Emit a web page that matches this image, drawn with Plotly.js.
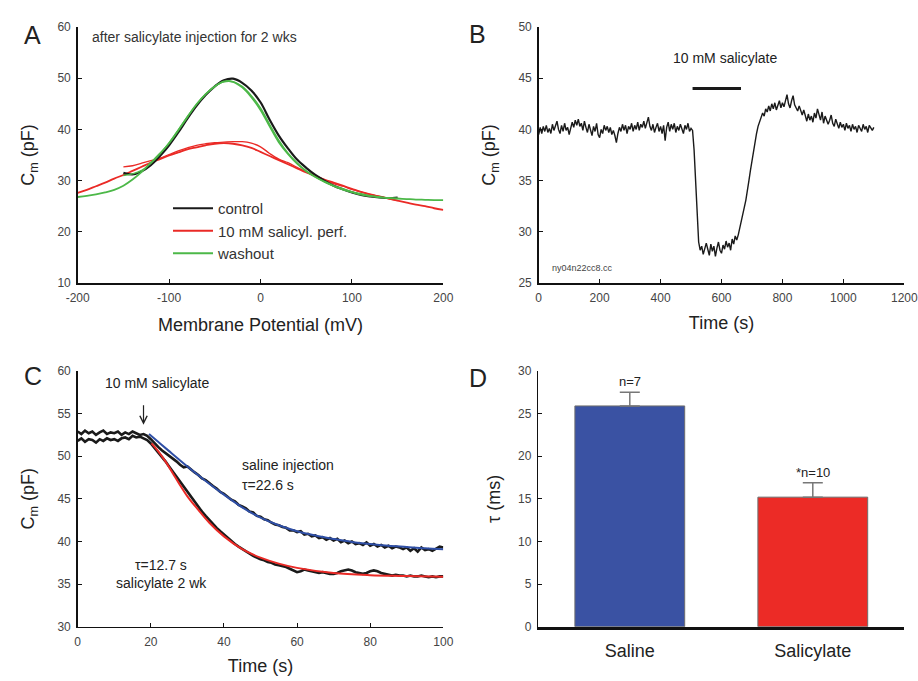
<!DOCTYPE html>
<html>
<head>
<meta charset="utf-8">
<script src="https://cdn.plot.ly/plotly-3.0.1.min.js"></script>
<style>html,body{margin:0;padding:0;background:#fff;}#chart{width:918px;height:681px;}</style>
</head>
<body>
<div id="chart"></div>
<script>
// ---------- Panel A: capacitance vs membrane potential ----------
const aFitX = [-200,-190,-180,-170,-160,-150,-140,-130,-120,-110,-100,-90,-80,-70,-60,-50,-40,-30,-20,-10,0,10,20,30,40,50,60,70,80,90,100,110,120,130,140,150,160,170,180,190,200];
const aWashFit = [26.8,27.0,27.3,27.7,28.2,29.0,30.2,31.7,33.5,35.3,37.3,39.8,42.4,44.9,46.9,48.4,49.4,49.3,48.2,46.3,43.8,40.6,37.5,35.2,33.3,31.8,30.7,29.8,29.0,28.4,27.8,27.4,27.0,26.8,26.6,26.5,26.4,26.3,26.25,26.2,26.2];
const aSalFit = [27.6,28.2,28.9,29.6,30.4,31.1,31.9,32.7,33.5,34.2,34.9,35.5,36.1,36.5,36.9,37.2,37.3,37.2,36.9,36.4,35.6,34.8,34.0,33.2,32.4,31.6,30.9,30.2,29.6,29.0,28.4,27.8,27.3,26.9,26.5,26.1,25.7,25.3,25.0,24.6,24.3];
const aDataX = [-150,-140,-130,-120,-110,-100,-90,-80,-70,-60,-50,-40,-30,-20,-10,0,10,20,30,40,50,60,70,80,90,100,110,120,130,140,150];
const aControl = [31.5,31.2,31.8,33.0,34.8,36.9,39.4,42.1,44.6,46.7,48.4,49.6,49.9,49.1,47.6,45.3,41.9,38.8,36.3,34.1,32.5,31.1,30.0,29.0,28.3,27.7,27.2,26.9,26.7,26.6,26.7];
const aSalData = [32.7,32.9,33.4,33.9,34.4,35.1,35.8,36.4,36.9,37.2,37.4,37.5,37.6,37.6,37.3,36.6,35.3,34.2,33.5,32.6,31.7,30.9,30.1,29.4,28.9,28.3,27.8,27.3,26.9,26.5,26.1];
const aWashData = [31.0,31.3,32.0,33.4,35.2,37.4,39.9,42.5,44.9,46.9,48.4,49.3,49.3,48.4,46.6,44.2,41.0,37.9,35.4,33.5,31.9,30.7,29.7,28.9,28.2,27.7,27.2,26.9,26.7,26.6,26.5];
const aLegendNames = ["control","10 mM salicyl. perf.","washout"];
const aTickVals = [-200,-100,0,100,200];
const aTickText = ["-200","-100","0","100","200"];

// ---------- Panel B: capacitance time course (sampled every 5 s from 0 s) ----------
const bStart = 0, bStep = 5;
const bCm = [
39.5,40.2,39.6,40.3,39.8,40.4,39.7,40.1,39.6,40.5,39.9,
40.3,40.8,40.0,39.6,40.4,39.8,40.6,39.9,40.2,39.5,
40.1,40.7,40.2,40.9,40.4,41.0,40.3,40.6,39.9,40.8,
40.2,39.7,40.5,40.0,39.4,40.3,39.8,40.6,39.5,39.2,
40.0,39.6,40.4,39.9,40.3,39.7,40.2,39.5,39.9,39.4,
38.7,39.6,40.2,39.8,40.5,39.9,40.4,39.6,40.3,40.0,
40.6,39.8,40.4,40.0,40.7,39.9,40.5,40.2,40.8,40.1,
40.6,41.2,40.3,39.9,40.5,39.7,40.2,40.6,39.8,40.3,
39.6,40.4,38.9,40.2,40.7,39.8,40.5,40.0,40.6,39.7,
40.3,39.9,40.5,40.1,39.6,40.4,40.0,40.6,39.8,40.1,
39.9,38.0,34.5,31.0,29.0,28.2,28.6,27.8,28.4,28.9,
28.3,27.7,28.8,28.1,28.6,27.6,28.4,29.0,28.2,27.9,
28.7,28.3,29.1,28.5,28.9,28.2,29.3,28.8,29.6,29.2,
29.7,30.3,30.9,31.6,32.4,33.1,33.9,35.0,36.0,37.0,
37.9,38.8,39.6,40.3,40.8,41.2,41.6,41.3,42.0,41.7,
42.3,41.8,42.5,42.0,42.6,41.9,42.4,42.8,42.1,42.6,
42.2,42.9,43.4,42.5,42.1,42.8,43.3,42.4,42.0,41.8,
42.3,41.7,41.4,41.9,41.2,40.8,41.5,40.9,41.3,40.7,
41.6,41.1,42.0,41.4,40.9,41.7,40.6,41.3,40.8,40.5,
40.9,41.4,40.6,40.3,41.0,40.4,40.1,40.7,40.2,40.5,
39.9,40.6,40.1,40.4,39.8,40.5,40.0,40.3,39.7,40.4,
40.1,39.8,40.5,40.0,40.3,39.7,40.4,40.1,39.9,40.2];
const bBarX = [505, 664];
const bBarY = [44, 44];

// ---------- Panel C: decay after 10 mM salicylate (sampled every 1 s from 0 s) ----------
const cStart = 0, cStep = 1;
const cSaline = [
52.9,52.6,53.0,52.7,52.9,52.5,52.8,53.0,52.6,52.8,
52.7,52.9,52.5,52.8,52.6,52.9,52.7,52.5,52.6,52.4,
52.0,51.5,51.1,50.7,50.4,50.0,49.7,49.4,49.0,48.7,
48.8,48.4,48.1,47.8,47.4,47.2,46.8,46.5,46.2,45.8,
45.6,45.2,44.9,44.7,44.3,44.1,43.9,43.5,43.4,43.0,
42.9,42.6,42.5,42.2,42.0,41.9,41.7,41.6,41.3,41.3,
41.1,41.2,40.8,40.9,40.6,40.7,40.4,40.5,40.2,40.4,
40.1,40.3,39.9,40.1,39.8,40.0,39.7,39.8,39.6,39.9,
39.5,39.7,39.4,39.6,39.3,39.5,39.2,39.4,39.3,39.1,
39.3,38.9,39.2,38.8,39.3,39.0,39.1,38.9,39.2,39.4,
39.3];
const cSalicylate = [
51.8,52.1,51.7,52.0,51.9,51.6,52.0,51.8,52.1,51.9,
52.0,51.8,52.1,52.2,52.0,52.4,52.2,52.3,52.1,51.9,
51.5,51.0,50.5,49.9,49.4,48.8,48.2,47.6,47.0,46.4,
45.8,45.2,44.6,44.1,43.5,43.0,42.5,42.0,41.6,41.2,
40.8,40.4,40.0,39.7,39.4,39.1,38.8,38.6,38.3,38.1,
37.9,37.8,37.6,37.5,37.3,37.2,37.1,37.0,36.8,36.6,
36.4,36.5,36.7,36.6,36.5,36.4,36.3,36.4,36.3,36.2,
36.2,36.3,36.5,36.6,36.7,36.6,36.4,36.3,36.2,36.3,
36.5,36.6,36.5,36.3,36.2,36.1,36.0,36.1,36.0,36.0,
35.9,36.0,35.9,35.9,36.0,35.9,35.8,35.9,35.8,35.9,
35.9];
const cSalineFitX = [19.5,22,25,30,35,40,45,50,55,60,65,70,75,80,85,90,95,100];
const cSalineFitY = [52.6,51.7,50.6,48.8,47.1,45.5,44.0,42.8,41.9,41.2,40.7,40.3,39.95,39.7,39.5,39.35,39.2,39.1];
const cSalFitX = [20.2,22,24,26,28,30,33,36,40,45,50,55,60,70,80,90,100];
const cSalFitY = [51.5,50.6,49.4,48.0,46.6,45.3,43.7,42.2,40.6,39.1,38.1,37.4,36.9,36.3,36.05,35.95,35.85];

// ---------- Panel D: time constants ----------
const dGroups = ["Saline","Salicylate"];
const dTau = [25.9, 15.2];
const dErr = [1.6, 1.7];
const dLabels = ["n=7","*n=10"];

// ---------- styling ----------
const FONT = "Liberation Sans, Arial, Helvetica, sans-serif";
const BLACK = "#1a1a1a", RED = "#ea2a26", GREEN = "#4cb848", BLUE = "#2f4fa6";
const W = 918, H = 681;
const px = v => v / W;
const py = v => 1 - v / H;

const traces = [
  // A
  {x: aFitX, y: aSalFit, xaxis:"x", yaxis:"y", mode:"lines", line:{color:RED, width:1.8, shape:"spline"}, name:aLegendNames[1], legendrank:2, showlegend:true},
  {x: aDataX, y: aSalData, xaxis:"x", yaxis:"y", mode:"lines", line:{color:RED, width:1.3, shape:"spline"}, showlegend:false},
  {x: aDataX, y: aControl, xaxis:"x", yaxis:"y", mode:"lines", line:{color:BLACK, width:2.2, shape:"spline"}, name:aLegendNames[0], legendrank:1, showlegend:true},
  {x: aDataX, y: aWashData, xaxis:"x", yaxis:"y", mode:"lines", line:{color:GREEN, width:1.3, shape:"spline"}, showlegend:false},
  {x: aFitX, y: aWashFit, xaxis:"x", yaxis:"y", mode:"lines", line:{color:GREEN, width:1.8, shape:"spline"}, name:aLegendNames[2], legendrank:3, showlegend:true},
  // B
  {y: bCm, x0: bStart, dx: bStep, xaxis:"x2", yaxis:"y2", mode:"lines", line:{color:BLACK, width:1.4}, showlegend:false},
  {x: bBarX, y: bBarY, xaxis:"x2", yaxis:"y2", mode:"lines", line:{color:BLACK, width:3}, showlegend:false},
  // C
  {y: cSaline, x0: cStart, dx: cStep, xaxis:"x3", yaxis:"y3", mode:"lines", line:{color:BLACK, width:2.6}, showlegend:false},
  {y: cSalicylate, x0: cStart, dx: cStep, xaxis:"x3", yaxis:"y3", mode:"lines", line:{color:BLACK, width:2.6}, showlegend:false},
  {x: cSalineFitX, y: cSalineFitY, xaxis:"x3", yaxis:"y3", mode:"lines", line:{color:BLUE, width:2, shape:"spline"}, showlegend:false},
  {x: cSalFitX, y: cSalFitY, xaxis:"x3", yaxis:"y3", mode:"lines", line:{color:RED, width:2, shape:"spline"}, showlegend:false},
  // D
  {type:"bar", x: dGroups, y: dTau, xaxis:"x4", yaxis:"y4", width:0.6,
   marker:{color:["#3a52a3","#ec2b26"], line:{color:"#6d6d6d", width:1}},
   error_y:{type:"data", symmetric:false, array:dErr, arrayminus:[0,0], color:"#777", thickness:1.5, width:10},
   showlegend:false}
];

const baseAxis = {
  showline:true, linecolor:"#111", linewidth:1.5, ticks:"inside", ticklen:4, tickcolor:"#111", tickwidth:1,
  showgrid:false, zeroline:false, tickfont:{family:FONT, size:12, color:"#444"}, ticklabelstandoff:3, fixedrange:true
};
const titleFont = {family:FONT, size:18, color:"#222"};
const AX = (o) => Object.assign({}, baseAxis, o);

const xA = [px(77.7), px(443.3)], xB = [px(538.7), px(904.3)], xD = [px(538.3), px(904.3)];
const yTop = [py(283), py(27)], yBot = [py(626.7), py(371)];

const layout = {
  width: W, height: H,
  margin:{l:0, r:0, t:0, b:0},
  paper_bgcolor:"#fff", plot_bgcolor:"rgba(0,0,0,0)",
  font:{family:FONT, color:"#222"},
  showlegend:true,
  legend:{x:px(168), y:py(192), xanchor:"left", yanchor:"top", bgcolor:"rgba(0,0,0,0)",
          font:{family:FONT, size:15, color:"#333"}, tracegroupgap:0, itemwidth:40, traceorder:"normal"},
  xaxis: AX({domain:xA, anchor:"y", range:[-200,200], tickmode:"array", tickvals:aTickVals, ticktext:aTickText,
             title:{text:"Membrane Potential (mV)", font:titleFont, standoff:14}}),
  yaxis: AX({domain:yTop, anchor:"x", range:[10,60], dtick:10,
             title:{text:"C<sub>m</sub> (pF)", font:titleFont, standoff:18}}),
  xaxis2: AX({domain:xB, anchor:"y2", range:[0,1200], dtick:200,
             title:{text:"Time (s)", font:titleFont, standoff:12}}),
  yaxis2: AX({domain:yTop, anchor:"x2", range:[25,50], dtick:5,
             title:{text:"C<sub>m</sub> (pF)", font:titleFont, standoff:18}}),
  xaxis3: AX({domain:xA, anchor:"y3", range:[0,100], dtick:20,
             title:{text:"Time (s)", font:titleFont, standoff:12}}),
  yaxis3: AX({domain:yBot, anchor:"x3", range:[30,60], dtick:5,
             title:{text:"C<sub>m</sub> (pF)", font:titleFont, standoff:18}}),
  xaxis4: AX({domain:xD, anchor:"y4", type:"category", range:[-0.5,1.5], ticks:"", linewidth:3,
             tickfont:{family:FONT, size:18, color:"#222"}, ticklabelstandoff:6}),
  yaxis4: AX({domain:yBot, anchor:"x4", range:[0,30], dtick:5,
             title:{text:"τ (ms)", font:titleFont, standoff:12}}),
  annotations: [
    {xref:"paper", yref:"paper", x:px(22), y:py(19), text:"A", showarrow:false, font:{family:FONT, size:25, color:"#222"}},
    {xref:"paper", yref:"paper", x:px(477), y:py(18), text:"B", showarrow:false, font:{family:FONT, size:25, color:"#222"}},
    {xref:"paper", yref:"paper", x:px(22), y:py(376), text:"C", showarrow:false, font:{family:FONT, size:25, color:"#222"}},
    {xref:"paper", yref:"paper", x:px(478), y:py(378), text:"D", showarrow:false, font:{family:FONT, size:25, color:"#222"}},
    {xref:"x", yref:"y", x:-186.4, y:58.0, xanchor:"left", text:"after salicylate injection for 2 wks", showarrow:false, font:{family:FONT, size:14, color:"#333"}},
    {xref:"x2", yref:"y2", x:611, y:47.0, text:"10 mM salicylate", showarrow:false, font:{family:FONT, size:14, color:"#222"}},
    {xref:"x2", yref:"y2", x:37, y:26.5, xanchor:"left", text:"ny04n22cc8.cc", showarrow:false, font:{family:FONT, size:9, color:"#444"}},
    {xref:"x3", yref:"y3", x:21.7, y:58.6, text:"10 mM salicylate", showarrow:false, font:{family:FONT, size:14, color:"#222"}},
    {xref:"x3", yref:"y3", x:18, y:53.7, ax:0, ay:-28, showarrow:true, arrowhead:5, arrowsize:1.2, arrowwidth:1.2, arrowcolor:"#222"},
    {xref:"x3", yref:"y3", x:44.4, y:49.0, xanchor:"left", text:"saline injection", showarrow:false, font:{family:FONT, size:14, color:"#222"}},
    {xref:"x3", yref:"y3", x:44.4, y:46.6, xanchor:"left", text:"τ=22.6 s", showarrow:false, font:{family:FONT, size:14, color:"#222"}},
    {xref:"x3", yref:"y3", x:22.9, y:37.2, text:"τ=12.7 s", showarrow:false, font:{family:FONT, size:14, color:"#222"}},
    {xref:"x3", yref:"y3", x:23.0, y:35.1, text:"salicylate 2 wk", showarrow:false, font:{family:FONT, size:14, color:"#222"}},
    {xref:"x4", yref:"y4", x:dGroups[0], y:dTau[0]+dErr[0], yanchor:"bottom", yshift:1, text:dLabels[0], showarrow:false, font:{family:FONT, size:13, color:"#222"}},
    {xref:"x4", yref:"y4", x:dGroups[1], y:dTau[1]+dErr[1], yanchor:"bottom", yshift:1, text:dLabels[1], showarrow:false, font:{family:FONT, size:13, color:"#222"}}
  ]
};

Plotly.newPlot("chart", traces, layout, {displayModeBar:false, staticPlot:true});
</script>
</body>
</html>
